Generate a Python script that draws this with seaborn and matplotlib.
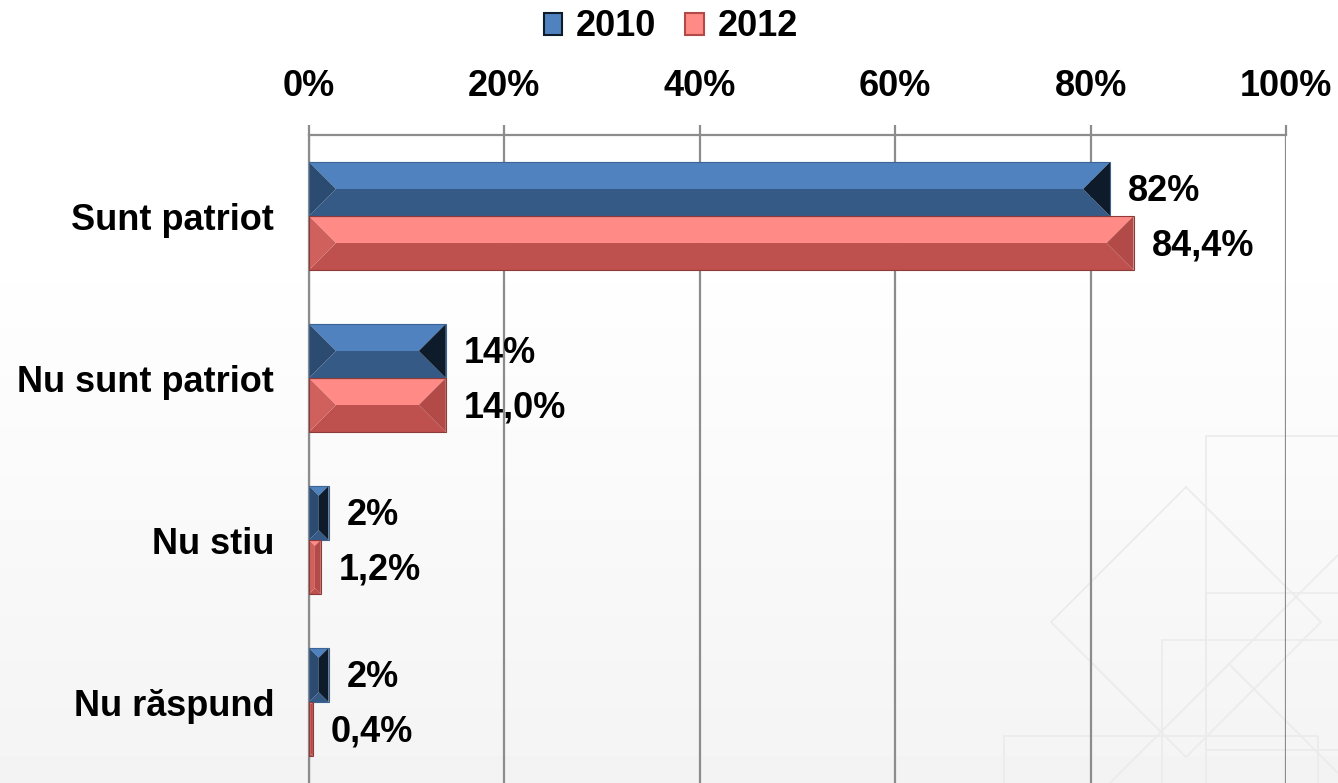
import numpy as np
import pandas as pd
import seaborn as sns
import matplotlib.pyplot as plt
from matplotlib.patches import Polygon, Rectangle
from matplotlib.lines import Line2D

# data
categories = ['Sunt patriot', 'Nu sunt patriot', 'Nu stiu', 'Nu răspund']
years = ['2010', '2012']
vals_2010 = [82, 14, 2, 2]
vals_2012 = [84.4, 14.0, 1.2, 0.4]
x_ticks = [0, 20, 40, 60, 80, 100]

df = pd.DataFrame({
    'cat': categories * 2,
    'year': [years[0]] * 4 + [years[1]] * 4,
    'val': vals_2010 + vals_2012,
})

sns.set_style('white')
plt.rcParams['font.family'] = ['Liberation Sans', 'DejaVu Sans']
plt.rcParams['font.weight'] = 'bold'
plt.rcParams['text.color'] = 'black'
plt.rcParams['xtick.labelcolor'] = 'black'
plt.rcParams['ytick.labelcolor'] = 'black'

fig = plt.figure(figsize=(13.38, 7.83), dpi=100)

# soft grey gradient background
bg = fig.add_axes([0, 0, 1, 1], zorder=-5)
grad = np.ones((200, 1))
t = np.linspace(0, 1, 200)
grad[:, 0] = np.clip(1 - 0.045 * (t - 0.3) / 0.7, 0.955, 1.0)
bg.imshow(grad, aspect='auto', cmap='gray', vmin=0, vmax=1, extent=[0, 1, 0, 1])
bg.set_axis_off()
# faint decorative shapes lower right
deco = '#ebebeb'
W, H = 1338, 783
def fl(xs, ys):
    bg.add_line(Line2D([x / W for x in xs], [1 - y / H for y in ys], color=deco, lw=1.2, zorder=1))
fl([1186, 1321, 1186, 1051, 1186], [487, 622, 757, 622, 487])
fl([1338, 1206, 1206, 1338], [436, 436, 750, 750])
fl([1338, 1206, 1206], [593, 593, 783])
fl([1162, 1338], [640, 640])
fl([1162, 1162], [640, 783])
fl([1004, 1318, 1318], [736, 736, 783])
fl([1004, 1004], [736, 783])
fl([1110, 1338], [783, 555])
fl([1230, 1338], [665, 773])
bg.set_xlim(0, 1)
bg.set_ylim(0, 1)

ax = fig.add_axes([309 / W, 0, 977 / W, 1 - 135 / H])
ax.patch.set_alpha(0)

pal = {'2010': '#4F81BD', '2012': '#C0504D'}
sns.barplot(data=df, y='cat', x='val', hue='year', order=categories,
            hue_order=years, palette=pal, width=0.667, orient='h',
            saturation=1, ax=ax, legend=True)

ax.set_xlim(0, 100)
ax.set_ylim(3.5, -0.5)
ax.set_xticks(x_ticks)
ax.set_xticklabels([f'{v}%' for v in x_ticks])
ax.xaxis.tick_top()
ax.set_xlabel('')
ax.set_ylabel('')

grey = '#8c8c8c'
ax.grid(axis='x', color=grey, lw=1.6)
ax.set_axisbelow(True)
for s in ['right', 'bottom']:
    ax.spines[s].set_visible(False)
for s in ['top', 'left']:
    ax.spines[s].set_color(grey)
    ax.spines[s].set_linewidth(1.6)
ax.tick_params(axis='x', length=7, width=1.6, color=grey, pad=15, labelsize=26, labelcolor='black')
ax.tick_params(axis='y', which='major', length=0, pad=25, labelsize=26, labelcolor='black')
ax.set_yticks(np.arange(-0.5, 4, 1), minor=True)
ax.tick_params(axis='y', which='minor', length=8, width=1.6, color=grey)
for lab in ax.get_xticklabels() + ax.get_yticklabels():
    lab.set_fontweight('bold')

# bevel look on each bar
shades = {
    '2010': dict(top='#4F82BF', bot='#355A86', left='#2C4B70', right='#0E1B2B', edge='#3C6596'),
    '2012': dict(top='#FF8A86', bot='#BE504D', left='#D0605C', right='#B24A47', edge='#8E3A38'),
}
fig.canvas.draw()
px_per_x = ax.transData.transform((1, 0))[0] - ax.transData.transform((0, 0))[0]
px_per_y = abs(ax.transData.transform((0, 1))[1] - ax.transData.transform((0, 0))[1])

bars = [p for p in ax.patches if isinstance(p, Rectangle) and p.get_height() > 0 and p.get_width() > 0][:8]
for i, p in enumerate(bars):
    yr = years[i // 4]
    c = shades[yr]
    x0, y0 = p.get_x(), p.get_y()
    w, h = p.get_width(), p.get_height()
    x1, y1 = x0 + w, y0 + h
    dx = (h / 2) * px_per_y / px_per_x
    d = min(dx, w / 2)
    e = (h / 2) * d / dx
    p.set_visible(False)
    polys = [
        ([(x0 + d, y0 + e), (x1 - d, y0 + e), (x1 - d, y1 - e), (x0 + d, y1 - e)], c['bot']),
        ([(x0, y0), (x1, y0), (x1 - d, y0 + e), (x0 + d, y0 + e)], c['top']),
        ([(x0, y1), (x1, y1), (x1 - d, y1 - e), (x0 + d, y1 - e)], c['bot']),
        ([(x0, y0), (x0 + d, y0 + e), (x0 + d, y1 - e), (x0, y1)], c['left']),
        ([(x1, y0), (x1 - d, y0 + e), (x1 - d, y1 - e), (x1, y1)], c['right']),
    ]
    for pts, col in polys:
        ax.add_patch(Polygon(pts, closed=True, facecolor=col, edgecolor='none', zorder=3))
    ax.add_patch(Rectangle((x0, y0), w, h, facecolor='none', edgecolor=c['edge'], lw=0.8, zorder=4))

    val = p.get_width()
    txt = f'{val:.0f}%' if yr == '2010' else f'{val:.1f}%'.replace('.', ',')
    ax.annotate(txt, (x1, y0 + h / 2), xytext=(13, -2), textcoords='offset points',
                ha='left', va='center', fontsize=26, fontweight='bold', color='black')

handles, labels = ax.get_legend_handles_labels()
ax.legend_.remove()
for hnd, yr in zip(handles, years):
    hnd.set_facecolor(shades[yr]['top'])
    hnd.set_edgecolor(shades[yr]['right'])
    hnd.set_linewidth(1.5)
fig.legend(handles, labels, loc='center', bbox_to_anchor=(671 / W, 1 - 27 / H),
           ncol=2, frameon=False, handlelength=0.5, handleheight=0.55,
           handletextpad=0.4, columnspacing=0.8, borderpad=0,
           prop={'weight': 'bold', 'size': 26}, labelcolor='black')

fig.savefig('out.png', dpi=100)
